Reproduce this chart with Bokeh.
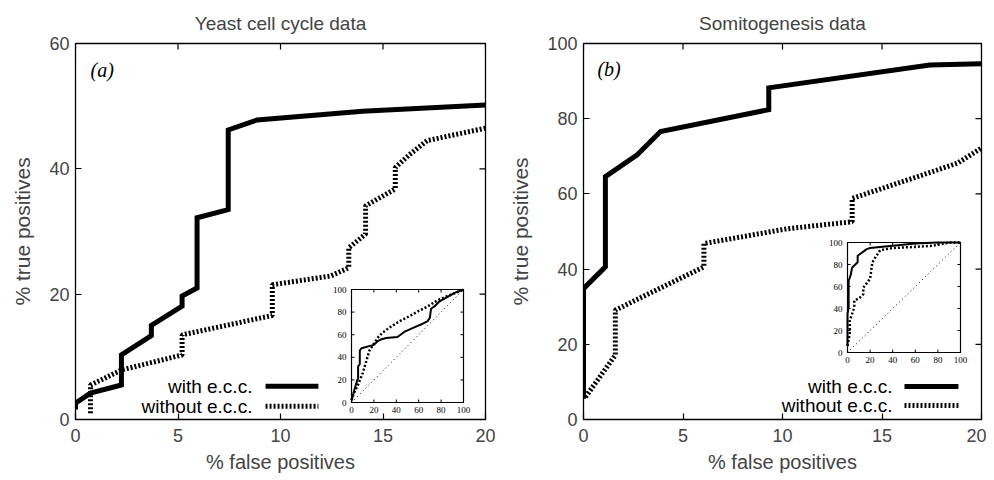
from bokeh.plotting import figure
from bokeh.models import Range1d, Label, Arrow, FixedTicker
from bokeh.layouts import row
from bokeh.embed import file_html
from bokeh.resources import INLINE

# ---------------- data ----------------
# Panel (a): Yeast cell cycle data (main view, % false positives 0-20)
a_with_x = [0, 0, 0.73, 2.24, 2.24, 3.7, 3.7, 5.2, 5.2, 5.93, 5.93, 7.45, 7.45, 8.86, 14.0, 20.0]
a_with_y = [1.6, 2.6, 4.2, 5.5, 10.3, 13.4, 15.0, 18.1, 19.7, 21.0, 32.2, 33.5, 46.2, 47.8, 49.2, 50.2]
a_wo_x = [0.73, 0.73, 2.24, 5.2, 5.2, 9.6, 9.6, 12.44, 13.33, 13.33, 14.15, 14.15, 15.6, 15.6, 16.3, 17.15, 20.0]
a_wo_y = [1.0, 5.5, 7.9, 10.3, 13.5, 16.6, 21.5, 22.9, 24.2, 27.4, 29.6, 34.1, 36.8, 40.2, 42.3, 44.5, 46.5]
# Panel (a) inset: full ROC 0-100
ai_with_x = [0, 0.7, 2.2, 3.7, 5.2, 5.9, 5.9, 7.4, 7.4, 8.9, 20, 23, 27, 31, 41, 48, 55, 62, 68, 70, 71, 74, 78, 85, 92, 100]
ai_with_y = [2, 4, 10, 15, 20, 21, 32, 34, 46, 48, 51, 54, 56, 57, 58, 63, 66, 69, 72, 75, 83, 85, 89, 93, 97, 100]
ai_wo_x = [0, 2, 6, 10, 13, 16, 20, 24, 28, 35, 43, 51, 60, 68, 76, 85, 93, 100]
ai_wo_y = [2, 8, 16, 26, 36, 46, 52, 58, 62, 67, 72, 76, 81, 85, 90, 94, 97, 100]

# Panel (b): Somitogenesis data
b_with_x = [0, 0, 1.1, 1.1, 2.7, 3.87, 9.31, 9.31, 17.4, 20.0]
b_with_y = [5.5, 34.8, 40.6, 64.6, 70.4, 76.6, 82.4, 88.2, 94.3, 94.6]
b_wo_x = [0.1, 1.6, 1.6, 6.05, 6.05, 10.2, 13.5, 13.5, 17.3, 18.8, 20.0]
b_wo_y = [6.0, 17.1, 29.1, 40.6, 46.8, 50.7, 52.6, 58.8, 65.5, 68.2, 72.2]
bi_with_x = [0, 0, 1, 1, 3, 4, 9, 9, 17, 20, 40, 60, 80, 100]
bi_with_y = [6, 35, 41, 65, 71, 77, 82, 88, 94, 95, 97, 99, 100, 100]
bi_wo_x = [0, 2, 2, 6, 6, 11, 14, 14, 20, 22, 25, 29, 40, 60, 75, 85, 90, 100]
bi_wo_y = [6, 17, 29, 41, 47, 50, 53, 59, 67, 82, 87, 93, 95, 96, 97, 99, 100, 100]

x_ticks = [0, 5, 10, 15, 20]
a_y_ticks = [0, 20, 40, 60]
b_y_ticks = [0, 20, 40, 60, 80, 100]
inset_ticks = [0, 20, 40, 60, 80, 100]
inset_lim = [0, 100]
legend_labels = ["with e.c.c.", "without e.c.c."]

FONT = "Liberation Sans"
MAIN_DOT = "2 2"
FIG_H = 480
FRAME_TOP = 43
FRAME_H = 376


def inset_range(frame_len, off, size):
    start = inset_lim[0] - off / size * (inset_lim[1] - inset_lim[0])
    end = start + frame_len / size * (inset_lim[1] - inset_lim[0])
    return Range1d(start, end)


def make_panel(title, ymax, yticks, width, border_left, border_right,
               frame_w, inset_box, main_with, main_wo, ins_with, ins_wo,
               legend_pos, tag, tag_pos):
    p = figure(width=width, height=FIG_H, x_range=Range1d(0, 20), y_range=Range1d(0, ymax),
               output_backend="svg", toolbar_location=None,
               min_border_left=border_left, min_border_right=border_right,
               min_border_top=FRAME_TOP, min_border_bottom=FIG_H - FRAME_TOP - FRAME_H)
    p.background_fill_color = "white"
    p.border_fill_color = "white"
    p.outline_line_color = "black"
    p.outline_line_width = 1.3
    p.grid.visible = False
    p.title.text = title
    p.title.align = "center"
    p.title.text_font = FONT
    p.title.text_font_size = "19px"
    p.title.text_font_style = "normal"
    p.title.standoff = 19

    p.extra_x_ranges = {"ix": inset_range(frame_w, inset_box[0], inset_box[2])}
    p.extra_y_ranges = {"iy": inset_range(FRAME_H, inset_box[1], inset_box[3])}

    for ax, ticks in ((p.xaxis[0], x_ticks), (p.yaxis[0], yticks)):
        ax.ticker = FixedTicker(ticks=ticks)
        ax.major_tick_in = 6
        ax.major_tick_out = 0
        ax.minor_tick_line_color = None
        ax.axis_line_color = None
        ax.major_tick_line_width = 1.2
        ax.major_label_text_font = FONT
        ax.major_label_text_font_size = "18px"
        ax.axis_label_text_font = FONT
        ax.axis_label_text_font_style = "normal"
    p.xaxis.axis_label = "% false positives"
    p.yaxis.axis_label = "% true positives"
    p.xaxis.axis_label_text_font_size = "20px"
    p.yaxis.axis_label_text_font_size = "21px"
    p.xaxis.major_label_standoff = 9
    p.xaxis.axis_label_standoff = 6
    p.yaxis.major_label_standoff = 6
    p.yaxis.axis_label_standoff = 12

    # mirrored inward ticks on top and right edges
    mt_x = 6.0 / frame_w * 20
    mt_y = 6.0 / FRAME_H * ymax
    nx, ny = len(x_ticks), len(yticks)
    p.segment(x0=x_ticks, x1=x_ticks, y0=[ymax] * nx, y1=[ymax - mt_y] * nx,
              line_color="black", line_width=1.2)
    p.segment(x0=[20] * ny, x1=[20 - mt_x] * ny, y0=yticks, y1=yticks,
              line_color="black", line_width=1.2)

    # main curves
    p.line(main_with[0], main_with[1], line_color="black", line_width=5, line_join="miter")
    p.line(main_wo[0], main_wo[1], line_color="black", line_width=5, line_dash=MAIN_DOT)

    # inset
    kw = dict(x_range_name="ix", y_range_name="iy")
    p.quad(left=inset_lim[0], right=inset_lim[1], bottom=inset_lim[0], top=inset_lim[1],
           fill_color="white", line_color="black", line_width=1.2, **kw)
    tl = 3.0 / inset_box[2] * 100
    n = len(inset_ticks)
    lo, hi = inset_lim
    p.segment(x0=inset_ticks, x1=inset_ticks, y0=[lo] * n, y1=[lo + tl] * n,
              line_color="black", line_width=1, **kw)
    p.segment(x0=inset_ticks, x1=inset_ticks, y0=[hi] * n, y1=[hi - tl] * n,
              line_color="black", line_width=1, **kw)
    p.segment(x0=[lo] * n, x1=[lo + tl] * n, y0=inset_ticks, y1=inset_ticks,
              line_color="black", line_width=1, **kw)
    p.segment(x0=[hi] * n, x1=[hi - tl] * n, y0=inset_ticks, y1=inset_ticks,
              line_color="black", line_width=1, **kw)
    p.text(x=inset_ticks, y=[lo] * n, text=[str(t) for t in inset_ticks], text_align="center",
           text_baseline="top", y_offset=4, text_font_size="9px", text_color="black",
           text_font=FONT, **kw)
    p.text(x=[lo] * n, y=inset_ticks, text=[str(t) for t in inset_ticks], text_align="right",
           text_baseline="middle", x_offset=-5, text_font_size="9px", text_color="black",
           text_font=FONT, **kw)
    p.line(inset_lim, inset_lim, line_color="black", line_width=1, line_dash="1 3", **kw)
    p.line(ins_wo[0], ins_wo[1], line_color="black", line_width=2.5, line_dash="2 2", **kw)
    p.line(ins_with[0], ins_with[1], line_color="black", line_width=2, **kw)

    # legend (label left, sample right)
    tx, lx0, lx1, y1, y2 = legend_pos
    for lab, yy, dash in ((legend_labels[0], y1, "solid"), (legend_labels[1], y2, MAIN_DOT)):
        p.add_layout(Label(x=tx, y=yy, text=lab, text_align="right", text_baseline="middle",
                           text_font=FONT, text_font_size="19px", text_color="black"))
        p.add_layout(Arrow(x_start=lx0, y_start=yy, x_end=lx1, y_end=yy, end=None,
                           line_color="black", line_width=5, line_dash=dash))

    p.add_layout(Label(x=tag_pos[0], y=tag_pos[1], text=tag, text_align="left",
                       text_baseline="middle", text_font="Liberation Serif",
                       text_font_style="italic", text_font_size="20px", text_color="black"))
    return p


pa = make_panel("Yeast cell cycle data", 60, a_y_ticks, width=495, border_left=75, border_right=10,
                frame_w=410, inset_box=(276, 17, 112, 113),
                main_with=(a_with_x, a_with_y), main_wo=(a_wo_x, a_wo_y),
                ins_with=(ai_with_x, ai_with_y), ins_wo=(ai_wo_x, ai_wo_y),
                legend_pos=(8.63, 9.27, 11.85, 5.3, 2.1), tag="(a)", tag_pos=(0.73, 55.8))
pb = make_panel("Somitogenesis data", 100, b_y_ticks, width=491, border_left=88, border_right=5,
                frame_w=398, inset_box=(264, 67, 113, 110),
                main_with=(b_with_x, b_with_y), main_wo=(b_wo_x, b_wo_y),
                ins_with=(bi_with_x, bi_with_y), ins_wo=(bi_wo_x, bi_wo_y),
                legend_pos=(15.53, 16.13, 18.84, 8.8, 3.7), tag="(b)", tag_pos=(0.7, 93.3))

layout = row(pa, pb)
open("out.html", "w").write(file_html(layout, INLINE))
